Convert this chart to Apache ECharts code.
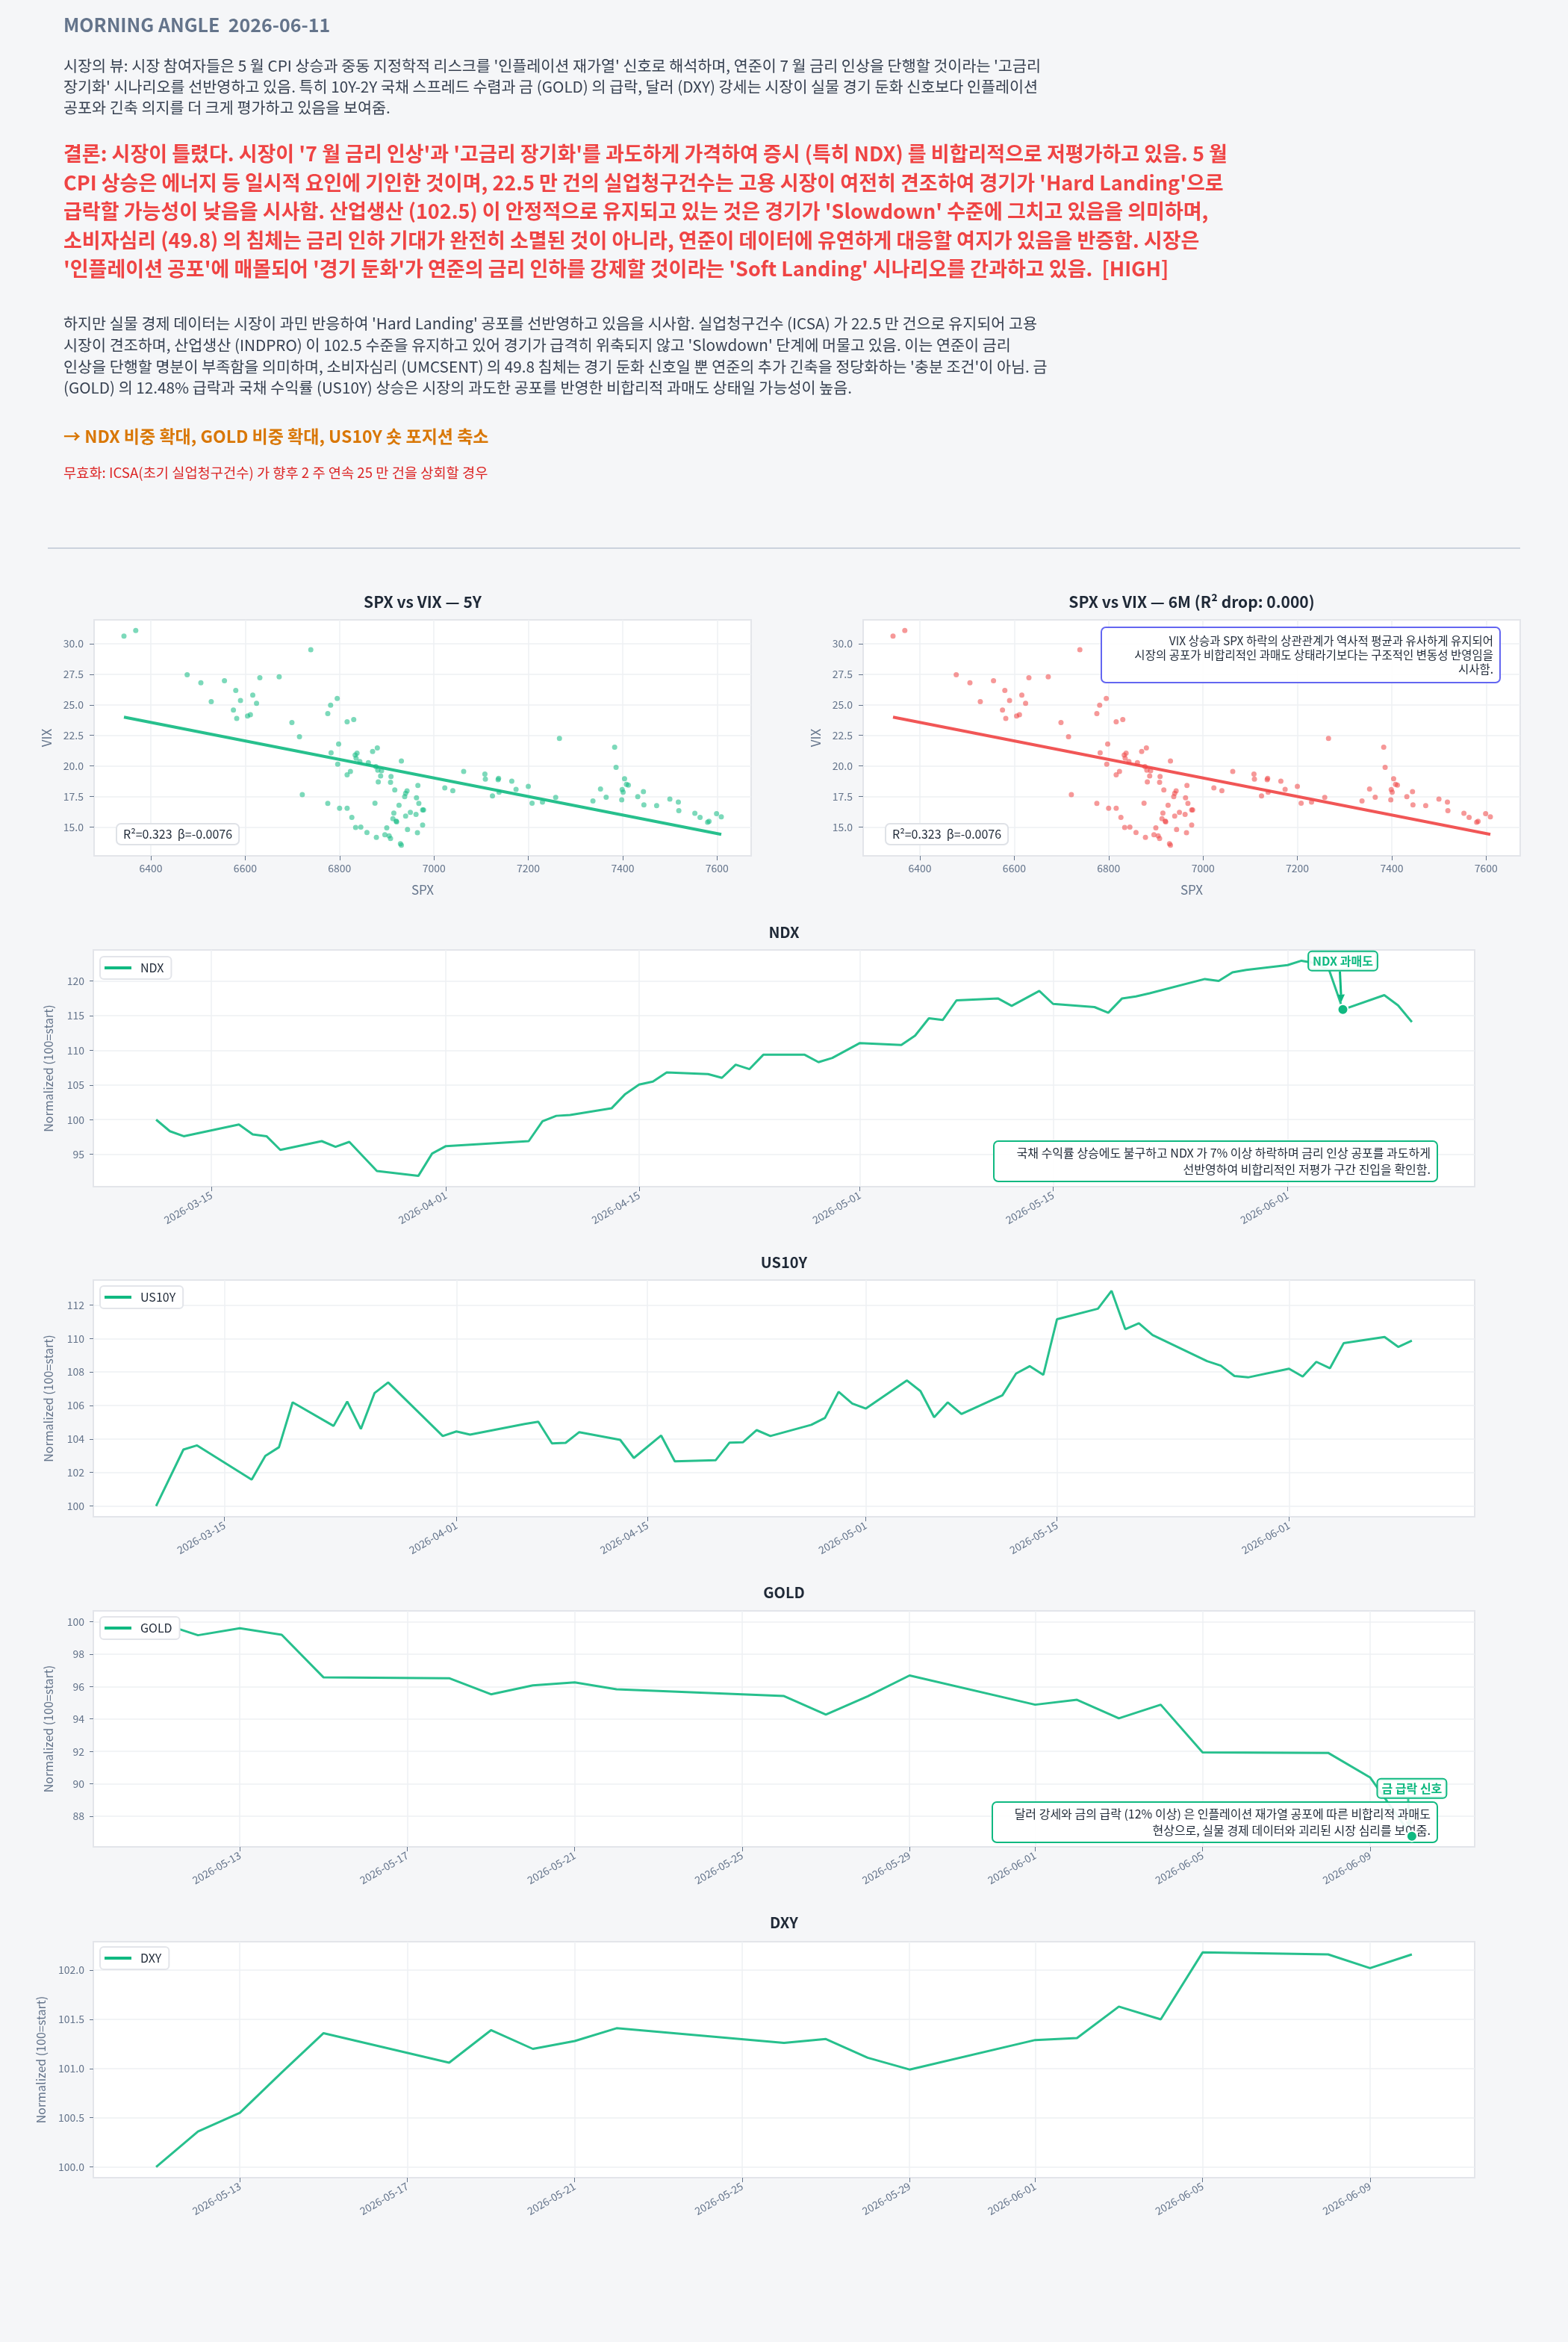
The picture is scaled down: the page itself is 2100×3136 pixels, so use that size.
<!DOCTYPE html>
<html>
<head>
<meta charset="utf-8">
<script src="https://cdn.jsdelivr.net/npm/echarts@6/dist/echarts.min.js"></script>
<style>
body { margin: 0; background: #f5f6f8; font-family: "Noto Sans CJK KR", "Noto Sans", sans-serif; }
#chart { position: absolute; left: 0; top: 0; width: 2100px; height: 3136px; }
.blk { position: absolute; left: 85px; white-space: nowrap; z-index: 2; }
.ttl { font-size: 25px; font-weight: bold; color: #64748b; line-height: 30px; }
.par { font-size: 20.7px; color: #374151; line-height: 28px; }
.con { font-size: 27px; font-weight: bold; color: #ef4444; line-height: 38.5px; }
.act { font-size: 23px; font-weight: bold; color: #d97706; line-height: 30px; }
.inv { font-size: 18.7px; color: #dc2626; line-height: 24px; }
.rule { position: absolute; left: 64px; top: 733px; width: 1972px; height: 2px; background: #cbd2dd; z-index: 2; }
</style>
</head>
<body>
<div id="chart"></div>
<div class="blk ttl" style="top:17px">MORNING ANGLE&nbsp;&nbsp;2026-06-11</div>
<div class="blk par" style="top:73px">시장의 뷰: 시장 참여자들은 5 월 CPI 상승과 중동 지정학적 리스크를 '인플레이션 재가열' 신호로 해석하며, 연준이 7 월 금리 인상을 단행할 것이라는 '고금리<br>장기화' 시나리오를 선반영하고 있음. 특히 10Y-2Y 국채 스프레드 수렴과 금 (GOLD) 의 급락, 달러 (DXY) 강세는 시장이 실물 경기 둔화 신호보다 인플레이션<br>공포와 긴축 의지를 더 크게 평가하고 있음을 보여줌.</div>
<div class="blk con" style="top:186px">결론: 시장이 틀렸다. 시장이 '7 월 금리 인상'과 '고금리 장기화'를 과도하게 가격하여 증시 (특히 NDX) 를 비합리적으로 저평가하고 있음. 5 월<br>CPI 상승은 에너지 등 일시적 요인에 기인한 것이며, 22.5 만 건의 실업청구건수는 고용 시장이 여전히 견조하여 경기가 'Hard Landing'으로<br>급락할 가능성이 낮음을 시사함. 산업생산 (102.5) 이 안정적으로 유지되고 있는 것은 경기가 'Slowdown' 수준에 그치고 있음을 의미하며,<br>소비자심리 (49.8) 의 침체는 금리 인하 기대가 완전히 소멸된 것이 아니라, 연준이 데이터에 유연하게 대응할 여지가 있음을 반증함. 시장은<br>'인플레이션 공포'에 매몰되어 '경기 둔화'가 연준의 금리 인하를 강제할 것이라는 'Soft Landing' 시나리오를 간과하고 있음.&nbsp;&nbsp;[HIGH]</div>
<div class="blk par" style="top:418px;line-height:28.8px">하지만 실물 경제 데이터는 시장이 과민 반응하여 'Hard Landing' 공포를 선반영하고 있음을 시사함. 실업청구건수 (ICSA) 가 22.5 만 건으로 유지되어 고용<br>시장이 견조하며, 산업생산 (INDPRO) 이 102.5 수준을 유지하고 있어 경기가 급격히 위축되지 않고 'Slowdown' 단계에 머물고 있음. 이는 연준이 금리<br>인상을 단행할 명분이 부족함을 의미하며, 소비자심리 (UMCSENT) 의 49.8 침체는 경기 둔화 신호일 뿐 연준의 추가 긴축을 정당화하는 '충분 조건'이 아님. 금<br>(GOLD) 의 12.48% 급락과 국채 수익률 (US10Y) 상승은 시장의 과도한 공포를 반영한 비합리적 과매도 상태일 가능성이 높음.</div>
<div class="blk act" style="top:568px">→ NDX 비중 확대, GOLD 비중 확대, US10Y 숏 포지션 축소</div>
<div class="blk inv" style="top:620px">무효화: ICSA(초기 실업청구건수) 가 향후 2 주 연속 25 만 건을 상회할 경우</div>
<div class="rule"></div>
<script>
// ---- data ----
var spx = [6343,6368,6739,6477,6506,6556,6631,6672,6580,6528,
  6590,6616,6624,6575,6582,6605,6611,6699,6715,6721,
  6795,6781,6775,6816,6830,6798,6782,6796,6833,6837,
  6835,6843,6861,6870,6880,6931,6816,6823,6877,6881,
  6889,6887,6909,6882,6908,6917,6966,6943,6940,6938,
  6963,6775,6875,6800,6816,6926,6968,6976,6978,6826,
  6915,6950,6962,6940,6913,6920,6921,6834,6845,6900,
  6976,6944,6858,6965,6896,6905,6878,6908,6929,6931,
  7023,7040,7063,7108,7109,7136,7137,7124,7138,7165,
  7174,7200,7208,7230,7258,7266,7337,7353,7365,7383,
  7386,7398,7399,7401,7404,7408,7412,7432,7444,7445,
  7472,7500,7518,7519,7553,7564,7580,7583,7599,7609];
var vix = [30.63,31.08,29.51,27.46,26.81,26.98,27.22,27.30,26.18,25.27,
  25.35,25.80,25.13,24.58,23.89,24.09,24.19,23.55,22.39,17.66,
  25.53,24.97,24.28,23.61,23.79,21.80,21.07,20.14,20.89,21.05,
  20.64,20.36,20.26,21.19,21.47,20.40,19.28,19.55,19.95,19.65,
  19.61,19.18,19.14,18.69,18.67,18.04,18.41,17.96,17.76,17.48,
  17.39,16.93,16.95,16.54,16.54,16.79,16.93,16.40,16.40,15.79,
  16.14,16.20,16.03,15.89,15.69,15.49,15.43,14.96,15.00,14.94,
  15.16,14.80,14.55,14.53,14.37,14.27,14.15,14.07,13.64,13.52,
  18.21,17.98,19.55,19.34,18.92,18.88,18.98,17.54,17.86,18.75,
  18.08,18.33,16.95,17.05,17.42,22.25,17.13,18.11,17.44,21.54,
  19.89,17.23,18.06,17.86,18.96,18.49,18.43,17.48,17.90,16.81,
  16.75,17.29,17.05,16.34,16.12,15.79,15.39,15.47,16.10,15.83];
var fitX = [6343, 7609];
var fitY = [24.0, 14.4];
var spxTicks = [6400, 6600, 6800, 7000, 7200, 7400, 7600];
var vixTicks = [15, 17.5, 20, 22.5, 25, 27.5, 30];

var ndxDates = ['2026-03-11','2026-03-12','2026-03-13','2026-03-17','2026-03-18','2026-03-19','2026-03-20',
  '2026-03-23','2026-03-24','2026-03-25','2026-03-27','2026-03-30','2026-03-31','2026-04-01',
  '2026-04-07','2026-04-08','2026-04-09','2026-04-10','2026-04-13','2026-04-14','2026-04-15',
  '2026-04-16','2026-04-17','2026-04-20','2026-04-21','2026-04-22','2026-04-23','2026-04-24',
  '2026-04-27','2026-04-28','2026-04-29','2026-05-01','2026-05-04','2026-05-05','2026-05-06',
  '2026-05-07','2026-05-08','2026-05-11','2026-05-12','2026-05-14','2026-05-15','2026-05-18',
  '2026-05-19','2026-05-20','2026-05-21','2026-05-22','2026-05-26','2026-05-27','2026-05-28',
  '2026-05-29','2026-06-01','2026-06-02','2026-06-03','2026-06-04','2026-06-05','2026-06-08',
  '2026-06-09','2026-06-10'];
var ndxVals = [100.0,98.33,97.61,99.30,97.87,97.61,95.64,
  96.90,96.07,96.79,92.60,91.88,95.11,96.18,
  96.90,99.76,100.55,100.66,101.63,103.70,105.06,
  105.49,106.82,106.57,106.03,107.93,107.29,109.36,
  109.36,108.29,108.90,111.05,110.76,112.12,114.63,
  114.38,117.21,117.49,116.42,118.57,116.70,116.24,
  115.42,117.49,117.78,118.24,120.29,120.00,121.25,
  121.61,122.30,122.93,122.56,121.60,115.88,117.96,
  116.49,114.09];
var ndxTicks = [95, 100, 105, 110, 115, 120];
var ndxSignalDate = '2026-06-05';

var usDates = ['2026-03-10','2026-03-12','2026-03-13','2026-03-17','2026-03-18','2026-03-19','2026-03-20',
  '2026-03-23','2026-03-24','2026-03-25','2026-03-26','2026-03-27','2026-03-31','2026-04-01',
  '2026-04-02','2026-04-06','2026-04-07','2026-04-08','2026-04-09','2026-04-10','2026-04-13',
  '2026-04-14','2026-04-16','2026-04-17','2026-04-20','2026-04-21','2026-04-22','2026-04-23',
  '2026-04-24','2026-04-27','2026-04-28','2026-04-29','2026-04-30','2026-05-01','2026-05-04',
  '2026-05-05','2026-05-06','2026-05-07','2026-05-08','2026-05-11','2026-05-12','2026-05-13',
  '2026-05-14','2026-05-15','2026-05-18','2026-05-19','2026-05-20','2026-05-21','2026-05-22',
  '2026-05-26','2026-05-27','2026-05-28','2026-05-29','2026-06-01','2026-06-02','2026-06-03',
  '2026-06-04','2026-06-05','2026-06-08','2026-06-09','2026-06-10'];
var usVals = [100.0,103.37,103.62,101.58,102.99,103.51,106.19,
  104.78,106.24,104.60,106.74,107.38,104.18,104.45,
  104.26,104.90,105.03,103.74,103.77,104.41,103.95,
  102.87,104.21,102.67,102.74,103.78,103.81,104.53,
  104.18,104.85,105.26,106.82,106.12,105.82,107.50,
  106.86,105.30,106.19,105.49,106.61,107.91,108.35,
  107.83,111.15,111.78,112.85,110.56,110.91,110.21,
  108.65,108.38,107.76,107.68,108.20,107.73,108.61,
  108.23,109.72,110.09,109.50,109.87];
var usTicks = [100, 102, 104, 106, 108, 110, 112];
var monthTicks = ['2026-03-15','2026-04-01','2026-04-15','2026-05-01','2026-05-15','2026-06-01'];

var goldDates = ['2026-05-11','2026-05-12','2026-05-13','2026-05-14','2026-05-15','2026-05-18','2026-05-19',
  '2026-05-20','2026-05-21','2026-05-22','2026-05-26','2026-05-27','2026-05-28','2026-05-29',
  '2026-06-01','2026-06-02','2026-06-03','2026-06-04','2026-06-05','2026-06-08','2026-06-09','2026-06-10'];
var goldVals = [100.0,99.16,99.59,99.19,96.56,96.51,95.52,
  96.07,96.25,95.83,95.41,94.27,95.40,96.68,
  94.88,95.18,94.04,94.88,91.94,91.91,90.40,86.78];
var goldTicks = [88, 90, 92, 94, 96, 98, 100];
var goldSignalDate = '2026-06-10';

var dxyDates = goldDates;
var dxyVals = [100.0,100.36,100.55,100.96,101.36,101.06,101.39,
  101.20,101.28,101.41,101.26,101.30,101.11,100.99,
  101.29,101.31,101.63,101.50,102.18,102.16,102.02,102.16];
var dxyTicks = [100.0, 100.5, 101.0, 101.5, 102.0];
var dayTicks = ['2026-05-13','2026-05-17','2026-05-21','2026-05-25','2026-05-29','2026-06-01','2026-06-05','2026-06-09'];

var noteScatter = ['VIX 상승과 SPX 하락의 상관관계가 역사적 평균과 유사하게 유지되어',
  '시장의 공포가 비합리적인 과매도 상태라기보다는 구조적인 변동성 반영임을', '시사함.'];
var noteNdx = ['국채 수익률 상승에도 불구하고 NDX 가 7% 이상 하락하며 금리 인상 공포를 과도하게',
  '선반영하여 비합리적인 저평가 구간 진입을 확인함.'];
var noteGold = ['달러 강세와 금의 급락 (12% 이상) 은 인플레이션 재가열 공포에 따른 비합리적 과매도',
  '현상으로, 실물 경제 데이터와 괴리된 시장 심리를 보여줌.'];

// ---- helpers ----
var GREEN = '#10b981', RED = '#ef4444', FONT = '"Noto Sans CJK KR", "Noto Sans", sans-serif';
function ts(s) { return new Date(s + 'T00:00:00').getTime(); }
function pad2(n) { return n < 10 ? '0' + n : '' + n; }
function fmtDate(v) { var d = new Date(v); return d.getFullYear() + '-' + pad2(d.getMonth() + 1) + '-' + pad2(d.getDate()); }
function padRange(arr) {
  var lo = Math.min.apply(null, arr), hi = Math.max.apply(null, arr), r = hi - lo;
  return [lo - r * 0.05, hi + r * 0.05];
}
function pairs(xs, ys, f) { return xs.map(function (x, i) { return [f ? f(x) : x, ys[i]]; }); }

var grids = [
  { left: 126, top: 830, width: 880, height: 316 },
  { left: 1156, top: 830, width: 880, height: 316 },
  { left: 125, top: 1272, width: 1850, height: 317 },
  { left: 125, top: 1714, width: 1850, height: 317 },
  { left: 125, top: 2157, width: 1850, height: 316 },
  { left: 125, top: 2600, width: 1850, height: 316 }
].map(function (g) {
  return Object.assign({ show: true, backgroundColor: '#ffffff', borderColor: '#e3e5ea', borderWidth: 2, containLabel: false }, g);
});

var labelStyle = { color: '#64748b', fontSize: 14, fontFamily: FONT };
var splitStyle = { show: true, lineStyle: { color: '#eef0f3', width: 1.5 } };

function scatterX(i) {
  var r = padRange(spx);
  return { gridIndex: i, type: 'value', min: r[0], max: r[1],
    name: 'SPX', nameLocation: 'middle', nameGap: 37, nameTextStyle: { color: '#64748b', fontSize: 17, fontFamily: FONT },
    axisLine: { show: false }, axisTick: { show: true, length: 6, customValues: spxTicks, lineStyle: { color: '#64748b' } },
    axisLabel: Object.assign({ customValues: spxTicks, margin: 10, formatter: function (v) { return String(v); } }, labelStyle),
    splitLine: splitStyle };
}
function scatterY(i) {
  var r = padRange(vix);
  return { gridIndex: i, type: 'value', min: r[0], max: r[1],
    name: 'VIX', nameLocation: 'middle', nameGap: 55, nameTextStyle: { color: '#64748b', fontSize: 17, fontFamily: FONT },
    axisLine: { show: false }, axisTick: { show: true, length: 6, customValues: vixTicks, lineStyle: { color: '#64748b' } },
    axisLabel: Object.assign({ customValues: vixTicks, margin: 14, formatter: function (v) { return v.toFixed(1); } }, labelStyle),
    splitLine: splitStyle };
}
// dates are placed on a value axis of timestamps so that tick positions can be chosen freely
function timeX(i, dates, ticks) {
  var r = padRange(dates.map(ts));
  var tv = ticks.map(ts);
  return { gridIndex: i, type: 'value', min: r[0], max: r[1],
    axisLine: { show: false }, axisTick: { show: true, length: 6, customValues: tv, lineStyle: { color: '#64748b' } },
    axisLabel: Object.assign({ customValues: tv, rotate: 30, margin: 10, formatter: fmtDate }, labelStyle),
    splitLine: splitStyle };
}
function normY(i, vals, ticks, gap, dec) {
  var r = padRange(vals);
  return { gridIndex: i, type: 'value', min: r[0], max: r[1],
    name: 'Normalized (100=start)', nameLocation: 'middle', nameGap: gap,
    nameTextStyle: { color: '#64748b', fontSize: 16, fontFamily: FONT },
    axisLine: { show: false }, axisTick: { show: true, length: 5, customValues: ticks, lineStyle: { color: '#64748b' } },
    axisLabel: Object.assign({ customValues: ticks, margin: 12, formatter: function (v) { return v.toFixed(dec); } }, labelStyle),
    splitLine: splitStyle };
}
function lineSeries(name, i, dates, vals) {
  return { name: name, type: 'line', xAxisIndex: i, yAxisIndex: i, data: pairs(dates, vals, ts),
    showSymbol: false, symbol: 'none', z: 2, lineStyle: { color: GREEN, width: 3, opacity: 0.9 }, itemStyle: { color: GREEN } };
}
function signal(i, dates, vals, day) {
  var k = dates.indexOf(day);
  return { type: 'scatter', xAxisIndex: i, yAxisIndex: i, data: [[ts(dates[k]), vals[k]]], z: 100,
    symbolSize: 14, itemStyle: { color: GREEN, borderColor: '#ffffff', borderWidth: 2, opacity: 1 } };
}
function scatterPair(i, color) {
  return [
    { type: 'scatter', xAxisIndex: i, yAxisIndex: i, data: pairs(spx, vix), symbolSize: 7,
      itemStyle: { color: color, opacity: 0.55 } },
    { type: 'line', xAxisIndex: i, yAxisIndex: i, data: pairs(fitX, fitY), showSymbol: false, symbol: 'none',
      lineStyle: { color: color, width: 4, opacity: 0.9 } }
  ];
}
function legend(name, top) {
  return { data: [name], left: 134, top: top, orient: 'horizontal', icon: 'rect', itemWidth: 36, itemHeight: 4,
    padding: [7, 10, 7, 6], backgroundColor: '#ffffff', borderColor: '#e3e5ea', borderWidth: 2, borderRadius: 5,
    textStyle: { color: '#1f2937', fontSize: 16, fontFamily: FONT, padding: [0, 0, 0, 7] } };
}

var chart = echarts.init(document.getElementById('chart'));
var option = {
  animation: false,
  grid: grids,
  xAxis: [scatterX(0), scatterX(1), timeX(2, ndxDates, monthTicks), timeX(3, usDates, monthTicks),
    timeX(4, goldDates, dayTicks), timeX(5, dxyDates, dayTicks)],
  yAxis: [scatterY(0), scatterY(1), normY(2, ndxVals, ndxTicks, 52, 0), normY(3, usVals, usTicks, 52, 0),
    normY(4, goldVals, goldTicks, 52, 0), normY(5, dxyVals, dxyTicks, 62, 1)],
  legend: [legend('NDX', 1281), legend('US10Y', 1722), legend('GOLD', 2165), legend('DXY', 2607)],
  series: [].concat(scatterPair(0, GREEN), scatterPair(1, RED), [
    lineSeries('NDX', 2, ndxDates, ndxVals), signal(2, ndxDates, ndxVals, ndxSignalDate),
    lineSeries('US10Y', 3, usDates, usVals),
    lineSeries('GOLD', 4, goldDates, goldVals), signal(4, goldDates, goldVals, goldSignalDate),
    lineSeries('DXY', 5, dxyDates, dxyVals)
  ])
};
chart.setOption(option);

// ---- titles and notes ----
var els = [];
function title(text, cx, cy, fs) {
  els.push({ type: 'text', z: 60, x: cx, y: cy, style: { text: text, align: 'center', verticalAlign: 'middle',
    font: 'bold ' + fs + 'px ' + FONT, fill: '#1f2937' } });
}
function noteBox(lines, x, y, w, h, stroke, fs, lh) {
  els.push({ type: 'rect', z: 50, shape: { x: x, y: y, width: w, height: h, r: 6 },
    style: { fill: 'rgba(255,255,255,0.9)', stroke: stroke, lineWidth: 2 } });
  els.push({ type: 'text', z: 51, x: x + w - 9, y: y + (h - lh * lines.length) / 2,
    style: { text: lines.join('\n'), align: 'right', verticalAlign: 'top', font: fs + 'px ' + FONT,
      lineHeight: lh, fill: '#1f2937' } });
}
function statBox(x, y) {
  els.push({ type: 'text', z: 50, x: x, y: y, style: { text: 'R²=0.323  β=-0.0076', font: '16px ' + FONT, fill: '#1f2937',
    backgroundColor: '#ffffff', borderColor: '#dfe2e7', borderWidth: 2, borderRadius: 5, padding: [5, 8] } });
}
function arrow(x1, y1, x2, y2, op) {
  var a = Math.atan2(y2 - y1, x2 - x1), L = 10, W = 5;
  var bx = x2 - L * Math.cos(a), by = y2 - L * Math.sin(a);
  els.push({ type: 'line', z: 40, shape: { x1: x1, y1: y1, x2: bx, y2: by },
    style: { stroke: GREEN, lineWidth: 3, opacity: op } });
  els.push({ type: 'polygon', z: 40, shape: { points: [[x2, y2],
    [bx + W * Math.sin(a), by - W * Math.cos(a)], [bx - W * Math.sin(a), by + W * Math.cos(a)]] },
    style: { fill: GREEN, opacity: op } });
}
function tag(text, cx, cy) {
  els.push({ type: 'text', z: 55, x: cx, y: cy, style: { text: text, align: 'center', verticalAlign: 'middle',
    font: 'bold 16px ' + FONT, fill: GREEN, backgroundColor: 'rgba(255,255,255,0.9)', borderColor: GREEN,
    borderWidth: 2, borderRadius: 4, padding: [4, 5] } });
}

title('SPX vs VIX — 5Y', 566, 806, 21);
title('SPX vs VIX — 6M (R² drop: 0.000)', 1596, 806, 21);
title('NDX', 1050, 1248, 20);
title('US10Y', 1050, 1690, 20);
title('GOLD', 1050, 2132, 20);
title('DXY', 1050, 2574, 20);
statBox(157, 1104);
statBox(1187, 1104);
noteBox(noteScatter, 1475, 840, 534, 74, '#6366f1', 15.5, 19);
noteBox(noteNdx, 1331, 1528, 594, 54, GREEN, 16, 22);
noteBox(noteGold, 1329, 2413, 596, 54, GREEN, 16, 22);

var kN = ndxDates.indexOf(ndxSignalDate);
var pN = chart.convertToPixel({ gridIndex: 2 }, [ts(ndxDates[kN]), ndxVals[kN]]);
tag('NDX 과매도', pN[0], pN[1] - 65);
arrow(pN[0] - 4, pN[1] - 51, pN[0] - 2, pN[1] - 10, 1);

var kG = goldDates.indexOf(goldSignalDate);
var pG = chart.convertToPixel({ gridIndex: 4 }, [ts(goldDates[kG]), goldVals[kG]]);
tag('금 급락 신호', pG[0], pG[1] - 64);
arrow(pG[0] - 5, pG[1] - 50, pG[0] - 3, pG[1] - 10, 0.8);

chart.setOption({ graphic: { elements: els } });

window.addEventListener('resize', function () { chart.resize(); });
</script>
</body>
</html>
